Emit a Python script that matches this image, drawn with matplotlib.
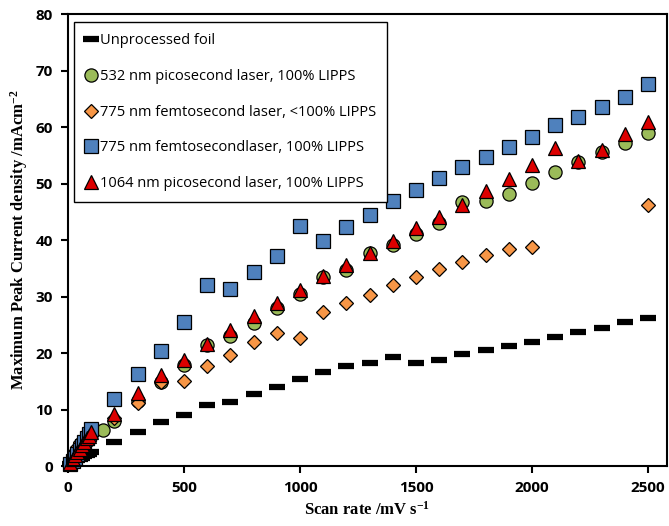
import numpy as np
import matplotlib.pyplot as plt

plt.rcParams['mathtext.fontset'] = 'custom'
plt.rcParams['mathtext.rm'] = 'Liberation Serif:bold'
plt.rcParams['mathtext.default'] = 'regular'

# scan rates (mV/s)
lowRates = [10, 20, 30, 40, 50, 60, 70, 80, 90, 100]
highRates = [200, 300, 400, 500, 600, 700, 800, 900, 1000, 1100, 1200, 1300,
             1400, 1500, 1600, 1700, 1800, 1900, 2000, 2100, 2200, 2300, 2400, 2500]

# unprocessed foil
foilX = lowRates + highRates
foilY = [0.3, 0.5, 0.8, 1.0, 1.3, 1.5, 1.8, 2.0, 2.2, 2.5,
         4.3, 6.0, 7.8, 9.0, 10.8, 11.3, 12.7, 14.0, 15.4, 16.6, 17.7, 18.2,
         19.3, 18.2, 18.8, 19.8, 20.5, 21.2, 22.0, 22.8, 23.7, 24.4, 25.5, 26.2]

# 532 nm picosecond, 100% LIPPS
greenX = lowRates + [150] + highRates
greenY = [0.5, 1.1, 1.6, 2.2, 2.8, 3.3, 3.9, 4.4, 5.0, 5.5, 6.4,
          8.0, 11.5, 14.9, 17.9, 21.4, 23.0, 25.3, 28.0, 30.4, 33.5, 34.7, 37.7,
          39.2, 41.1, 43.0, 46.7, 46.9, 48.2, 50.1, 52.0, 53.8, 55.6, 57.2, 58.9]

# 775 nm femtosecond, <100% LIPPS (no data 2100-2400)
orangeX = lowRates + [200, 300, 400, 500, 600, 700, 800, 900, 1000, 1100, 1200,
                      1300, 1400, 1500, 1600, 1700, 1800, 1900, 2000, 2500]
orangeY = [0.9, 1.8, 2.6, 3.4, 4.2, 4.6, 5.0, 5.3, 5.6, 6.0,
           8.5, 11.1, 14.8, 15.0, 17.7, 19.6, 21.9, 23.5, 22.7, 27.2, 28.8,
           30.2, 32.1, 33.5, 34.8, 36.1, 37.4, 38.4, 38.8, 46.2]

# 775 nm femtosecond, 100% LIPPS
blueX = lowRates + highRates
blueY = [0.4, 0.9, 1.5, 2.1, 2.8, 3.5, 4.2, 4.9, 5.6, 6.6,
         11.9, 16.3, 20.4, 25.5, 32.1, 31.3, 34.4, 37.2, 42.5, 39.8, 42.3, 44.5,
         46.9, 48.8, 51.0, 52.9, 54.7, 56.5, 58.2, 60.4, 61.8, 63.5, 65.3, 67.6]

# 1064 nm picosecond, 100% LIPPS
redX = lowRates + highRates
redY = [0.6, 1.3, 1.9, 2.5, 3.1, 3.7, 4.3, 4.9, 5.4, 6.0,
        9.3, 12.9, 16.1, 18.8, 21.6, 24.0, 26.5, 28.9, 31.2, 33.6, 35.6, 37.7,
        39.8, 42.1, 44.1, 46.2, 48.7, 50.8, 53.3, 56.3, 54.0, 55.9, 58.8, 60.9]

labels = ['Unprocessed foil',
          '532 nm picosecond laser, 100% LIPPS',
          '775 nm femtosecond laser, <100% LIPPS',
          '775 nm femtosecondlaser, 100% LIPPS',
          '1064 nm picosecond laser, 100% LIPPS']

fig = plt.figure(figsize=(6.69, 5.26), dpi=100)
ax = fig.add_axes([0.1016, 0.114, 0.8954, 0.859])

ax.plot(foilX, foilY, ls='none', marker='_', ms=11, mew=4.5, color='black',
        label=labels[0], clip_on=False)
ax.plot(greenX, greenY, ls='none', marker='o', ms=9.5, mfc='#9BBB59', mec='black',
        mew=0.9, label=labels[1], clip_on=False)
ax.plot(orangeX, orangeY, ls='none', marker='D', ms=7, mfc='#F79646', mec='black',
        mew=0.9, label=labels[2], clip_on=False)
ax.plot(blueX, blueY, ls='none', marker='s', ms=10, mfc='#4F81BD', mec='black',
        mew=0.9, label=labels[3], clip_on=False)
ax.plot(redX, redY, ls='none', marker='^', ms=10, mfc='#DD0000', mec='black',
        mew=0.9, label=labels[4], clip_on=False)

ax.set_xlim(0, 2582)
ax.set_ylim(0, 80)
ax.set_xticks([0, 500, 1000, 1500, 2000, 2500])
ax.set_yticks(np.arange(0, 81, 10))
ax.tick_params(direction='out', length=5, width=1.5, labelsize=11, pad=6)
for lbl in ax.get_xticklabels() + ax.get_yticklabels():
    lbl.set_fontweight('bold')
    lbl.set_family('Open Sans')
for sp in ax.spines.values():
    sp.set_linewidth(1.5)

ax.set_xlabel('Scan rate /mV s$^{-1}$', family='Liberation Serif', fontweight='bold',
              fontsize=12)
ax.set_ylabel('Maximum Peak Current density /mAcm$^{-2}$', family='Liberation Serif',
              fontweight='bold', fontsize=12)

leg = ax.legend(loc='upper left', bbox_to_anchor=(0.01, 0.982), borderaxespad=0,
                frameon=True, fancybox=False, edgecolor='black', framealpha=1,
                prop={'family': 'Open Sans', 'size': 10.5}, handlelength=0.8,
                handletextpad=0.25, labelspacing=1.42, borderpad=0.75)
leg.get_frame().set_linewidth(1.0)

fig.savefig('out.png', dpi=100)
